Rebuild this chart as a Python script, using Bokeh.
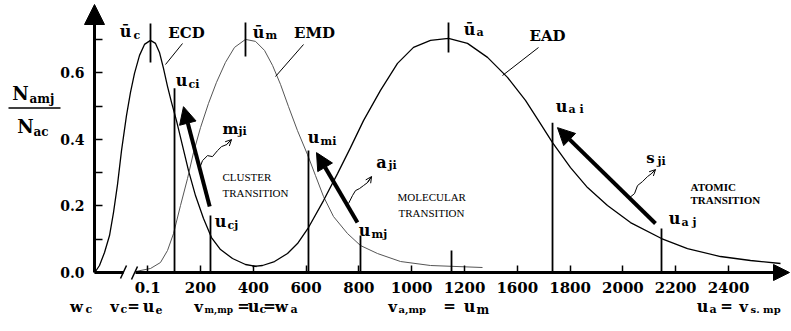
from bokeh.plotting import figure
from bokeh.models import Label, Arrow, NormalHead, OpenHead, FixedTicker, Range1d, PrintfTickFormatter
from bokeh.embed import file_html
from bokeh.resources import INLINE

# ---------------- data (x in axis-position units, y = N_amj / N_ac) ----------------
x_tick_pos = [0, 1, 2, 3, 4, 5, 6, 7, 8, 9, 10, 11]
x_tick_labels = ["0.1", "200", "400", "600", "800", "1000", "1200", "1600", "1800", "2000", "2200", "2400"]
y_major = [0.0, 0.2, 0.4, 0.6]
y_minor = [0.1, 0.3, 0.5, 0.7]

ecd_x = [-0.989, -0.913, -0.818, -0.723, -0.648, -0.572, -0.496, -0.402, -0.326, -0.250, -0.155, -0.061,
         0.053, 0.148, 0.223, 0.299, 0.375, 0.451, 0.545, 0.659, 0.773, 0.905, 1.057, 1.208, 1.379,
         1.606, 1.852, 2.061]
ecd_y = [0.003, 0.021, 0.060, 0.111, 0.180, 0.264, 0.366, 0.471, 0.541, 0.598, 0.652, 0.685,
         0.697, 0.688, 0.661, 0.613, 0.559, 0.511, 0.456, 0.381, 0.306, 0.231, 0.162, 0.105, 0.069,
         0.042, 0.024, 0.018]

emd_x = [-0.231, 0.053, 0.242, 0.375, 0.489, 0.621, 0.754, 0.867, 1.000, 1.152, 1.303, 1.473, 1.644,
         1.852, 2.042, 2.212, 2.364, 2.515, 2.667, 2.837, 3.027, 3.178, 3.330, 3.519, 3.784, 4.030,
         4.352, 4.788, 5.356, 6.341]
emd_y = [0.003, 0.012, 0.030, 0.066, 0.117, 0.201, 0.282, 0.360, 0.435, 0.508, 0.571, 0.631, 0.676,
         0.700, 0.694, 0.667, 0.622, 0.565, 0.498, 0.426, 0.354, 0.291, 0.228, 0.168, 0.117, 0.081,
         0.057, 0.033, 0.021, 0.015]

ead_x = [1.985, 2.174, 2.402, 2.648, 2.837, 3.045, 3.330, 3.595, 3.841, 4.087, 4.409, 4.731, 5.034,
         5.356, 5.697, 6.057, 6.436, 6.814, 7.155, 7.402, 7.667, 8.008, 8.330, 8.708, 9.144, 9.731,
         10.223, 10.848, 11.417, 11.985]
ead_y = [0.018, 0.021, 0.033, 0.057, 0.087, 0.135, 0.216, 0.297, 0.375, 0.456, 0.547, 0.628, 0.676,
         0.697, 0.703, 0.688, 0.646, 0.586, 0.517, 0.456, 0.390, 0.315, 0.255, 0.201, 0.150, 0.102,
         0.072, 0.048, 0.036, 0.027]

# mean-speed markers (u bar) on top of each peak
mean_x = [0.053, 1.852, 5.697]
mean_y0 = [0.631, 0.649, 0.661]
mean_y1 = [0.748, 0.751, 0.751]

# level lines u_ci, u_cj, u_mi, u_mj, u_ai, u_aj (+ small mark under u_a bar)
lvl_x = [0.508, 1.189, 3.045, 4.030, 7.667, 9.731, 5.754]
lvl_top = [0.553, 0.171, 0.366, 0.111, 0.450, 0.132, 0.066]

# transitions (thick arrows): tail -> head
tr_x0 = [1.174, 3.973, 9.617]
tr_y0 = [0.198, 0.150, 0.147]
tr_x1 = [0.678, 3.197, 7.761]
tr_y1 = [0.498, 0.360, 0.435]

# photon squiggles m_ji, a_ji, s_ji
mji_x = [0.981, 1.038, 1.133, 1.227, 1.322, 1.398, 1.492, 1.587]
mji_y = [0.312, 0.336, 0.351, 0.348, 0.366, 0.378, 0.384, 0.399]
aji_x = [3.803, 3.879, 3.936, 4.011, 4.087, 4.163, 4.239]
aji_y = [0.207, 0.231, 0.246, 0.252, 0.261, 0.270, 0.288]
sji_x = [9.106, 9.220, 9.277, 9.371, 9.466, 9.542, 9.617]
sji_y = [0.222, 0.237, 0.261, 0.273, 0.288, 0.297, 0.309]

# ---------------- figure ----------------
W, H = 790, 330


def X(px):
    return (px - 147.2) / 52.8


def Y(py):
    return (272 - py) / 333


X0 = X(94)  # position of the vertical axis

p = figure(width=W, height=H, output_backend="svg", toolbar_location=None,
           x_range=Range1d(X(0), X(W)), y_range=Range1d(Y(H), Y(0)),
           min_border_left=0, min_border_right=0, min_border_top=0, min_border_bottom=0)
p.outline_line_color = None
p.xgrid.grid_line_color = None
p.ygrid.grid_line_color = None

xa = p.xaxis[0]
xa.fixed_location = 0
xa.ticker = FixedTicker(ticks=x_tick_pos)
xa.major_label_overrides = {t: l for t, l in zip(x_tick_pos, x_tick_labels)}
xa.axis_line_color = None
xa.major_tick_in = 7
xa.major_tick_out = 0
xa.major_tick_line_width = 1.5
xa.major_label_standoff = 9
xa.major_label_text_font = "DejaVu Serif"
xa.major_label_text_font_style = "bold"
xa.major_label_text_font_size = "15px"
xa.major_label_text_color = "black"

ya = p.yaxis[0]
ya.fixed_location = X0
ya.ticker = FixedTicker(ticks=y_major, minor_ticks=y_minor)
ya.formatter = PrintfTickFormatter(format="%.1f")
ya.axis_line_color = None
ya.major_tick_in = 8
ya.major_tick_out = 0
ya.minor_tick_in = 8
ya.minor_tick_out = 0
ya.major_tick_line_width = 1.5
ya.minor_tick_line_width = 1.5
ya.minor_tick_line_color = "black"
ya.major_label_standoff = 10
ya.major_label_text_font = "DejaVu Serif"
ya.major_label_text_font_style = "bold"
ya.major_label_text_font_size = "14px"
ya.major_label_text_color = "black"

# distributions
p.line(ecd_x, ecd_y, line_color="black", line_width=1.3)
p.line(emd_x, emd_y, line_color="#555555", line_width=1)
p.line(ead_x, ead_y, line_color="black", line_width=1.3)

# markers
p.segment(x0=mean_x, y0=mean_y0, x1=mean_x, y1=mean_y1, line_color="black", line_width=1.8)
p.segment(x0=lvl_x, y0=[0] * len(lvl_x), x1=lvl_x, y1=lvl_top, line_color="black", line_width=1.8)

# squiggles
for sx, sy in ((mji_x, mji_y), (aji_x, aji_y), (sji_x, sji_y)):
    p.line(sx, sy, line_color="black", line_width=1)
    p.add_layout(Arrow(x_start=sx[-2], y_start=sy[-2], x_end=sx[-1], y_end=sy[-1], line_width=1,
                       end=OpenHead(size=6, line_width=1)))

# transition arrows
for a, b, c, d in zip(tr_x0, tr_y0, tr_x1, tr_y1):
    p.add_layout(Arrow(x_start=a, y_start=b, x_end=c, y_end=d, line_width=4,
                       end=NormalHead(size=17, fill_color="black", line_color="black")))


def seg(x0, y0, x1, y1, w=1.0):
    p.add_layout(Arrow(x_start=x0, y_start=y0, x_end=x1, y_end=y1, line_width=w, end=None))


# axes lines with arrow heads and the axis break
p.add_layout(Arrow(x_start=X0, y_start=0, x_end=X0, y_end=Y(4), line_width=3,
                   end=NormalHead(size=20, fill_color="black", line_color="black")))
p.add_layout(Arrow(x_start=X(135), y_start=0, x_end=X(789), y_end=0, line_width=3,
                   end=NormalHead(size=16, fill_color="black", line_color="black")))
seg(X0, 0, X(123), 0, 3)
seg(X(120), Y(278), X(126), Y(265), 1.5)
seg(X(131), Y(279), X(137), Y(266), 1.5)

# leader lines
seg(X(182), Y(43), X(165), Y(64))
seg(X(303), Y(44), X(275), Y(76))
seg(X(538), Y(47), X(502), Y(75))

# fraction bar
seg(X(8), Y(107.5), X(60), Y(107.5), 1.5)


def txt(px, py, s, size=15, align="center", bold=True, font="DejaVu Serif"):
    p.add_layout(Label(x=X(px), y=Y(py), text=s, text_font=font, text_font_size=f"{size}px",
                       text_font_style="bold" if bold else "normal", text_align=align,
                       text_baseline="middle", text_color="black"))


# y label fraction
txt(20, 93, "N", 18)
txt(29, 98, "amj", 12, "left")
txt(25, 126, "N", 18)
txt(33, 131, "ac", 12, "left")

# curve names and markers
txt(125, 31, "ū", 16); txt(133, 35, "c", 11, "left")
txt(186, 32, "ECD", 15)
txt(258, 32, "ū", 16); txt(265, 35, "m", 11, "left")
txt(314, 32, "EMD", 15)
txt(469, 29, "ū", 16); txt(476, 32, "a", 11, "left")
txt(547, 35, "EAD", 15)

txt(181, 80, "u", 16); txt(188, 84, "ci", 11, "left")
txt(230, 128, "m", 15); txt(238, 131, "ji", 11, "left")
txt(220, 221, "u", 16); txt(227, 225, "cj", 11, "left")
txt(313, 137, "u", 16); txt(320, 141, "mi", 11, "left")
txt(381, 162, "a", 16); txt(388, 165, "ji", 11, "left")
txt(364, 230, "u", 16); txt(371, 234, "mj", 11, "left")
txt(561, 106, "u", 16); txt(568, 109, "a i", 11, "left")
txt(650, 157, "s", 15); txt(657, 161, "ji", 11, "left")
txt(674, 218, "u", 16); txt(681, 222, "a j", 11, "left")

txt(222, 176, "CLUSTER", 11, "left", False, "Liberation Serif")
txt(222, 192, "TRANSITION", 11, "left", False, "Liberation Serif")
txt(397, 196, "MOLECULAR", 11, "left", False, "Liberation Serif")
txt(398, 212, "TRANSITION", 11, "left", False, "Liberation Serif")
txt(690, 186, "ATOMIC", 11, "left", True, "Liberation Serif")
txt(690, 199, "TRANSITION", 11, "left", True, "Liberation Serif")

# bottom relations
by = 306
txt(76, by, "w", 15); txt(85, by + 3, "c", 11, "left")
txt(114, by, "v", 15); txt(120, by + 3, "c", 11, "left"); txt(133, by - 1, "=", 15)
txt(148, by, "u", 16); txt(155, by + 3, "e", 11, "left")
txt(198, by, "v", 15); txt(204, by + 3, "m,mp", 9, "left"); txt(243, by - 1, "=", 15)
txt(253, by, "u", 16); txt(259, by + 3, "c", 11, "left"); txt(269, by - 1, "=", 15)
txt(281, by, "w", 15); txt(290, by + 3, "a", 11, "left")
txt(392, by, "v", 15); txt(398, by + 3, "a,mp", 10, "left"); txt(449, by - 1, "=", 15)
txt(469, by, "u", 16); txt(476, by + 3, "m", 12, "left")
txt(702, by, "u", 16); txt(709, by + 3, "a", 11, "left"); txt(726, by - 1, "=", 15)
txt(743, by, "v", 15); txt(750, by + 3, "s. mp", 10, "left")

open("out.html", "w").write(file_html(p, INLINE))
